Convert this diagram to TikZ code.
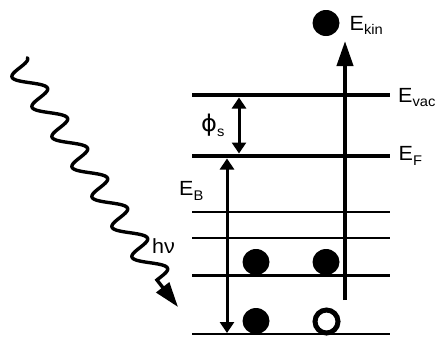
\documentclass[tikz,border=0pt]{standalone}
\usepackage{fontspec}
\setmainfont[FakeStretch=1.05]{Liberation Sans}
\newfontfamily\phifont[FakeStretch=1.05]{DejaVu Sans}
\usetikzlibrary{arrows.meta,shapes.geometric}
\newcommand{\lowtxt}[1]{\raisebox{-4.5pt}{\fontsize{14}{14}\selectfont #1}}
\begin{document}
\begin{tikzpicture}[x=1pt,y=-1pt,
  thicklevel/.style={line width=4.5pt},
  thinlevel/.style={line width=2.7pt},
  lbl/.style={anchor=base west,inner sep=0pt,font=\fontsize{20.5}{24}\selectfont},
  ball/.style={ellipse,fill=black,minimum width=27pt,minimum height=26pt,inner sep=0pt},
  hole/.style={circle,draw=black,line width=5pt,minimum size=23pt,inner sep=0pt},
  bigtip/.tip={Triangle[length=25pt,width=16pt]},
  smalltip/.tip={Triangle[length=11pt,width=14pt]},
  wave/.style={line width=3.4pt,line cap=round,-bigtip}]
\useasboundingbox (0,0) rectangle (436,338);
% levels
\coordinate (vacL) at (192,95);  \coordinate (vacR) at (390,95);
\coordinate (fL) at (192,156);   \coordinate (fR) at (390,156);
\coordinate (aL) at (192,212);   \coordinate (aR) at (390,212);
\coordinate (bL) at (192,238);   \coordinate (bR) at (390,238);
\coordinate (cL) at (192,275.5); \coordinate (cR) at (390,275.5);
\coordinate (dL) at (192,334);   \coordinate (dR) at (390,334);
\draw[thicklevel] (vacL) -- (vacR);
\draw[thicklevel] (fL) -- (fR);
\draw[thinlevel] (aL) -- (aR);
\draw[thinlevel] (bL) -- (bR);
\draw[thinlevel] (cL) -- (cR);
\draw[thinlevel] (dL) -- (dR);
% emission arrow
\coordinate (exB) at (345,300); \coordinate (exT) at (345,41);
\draw[line width=4pt,-bigtip] (exB) -- (exT);
% work function arrow
\coordinate (phT) at (239,97.5); \coordinate (phB) at (239,153.5);
\draw[line width=3pt,smalltip-smalltip] (phT) -- (phB);
% binding energy arrow
\coordinate (ebT) at (227,158.5); \coordinate (ebB) at (227,333);
\draw[line width=3pt,smalltip-smalltip] (ebT) -- (ebB);
% electrons
\node[ball] (ek) at (326,23) {};
\node[ball] (e1) at (256,262) {};
\node[ball] (e2) at (326,262) {};
\node[ball] (e3) at (256,321) {};
\node[hole] (h1) at (326.5,321.5) {};
% photon
\coordinate (tip) at (178,307);
\draw[wave] plot[domain=0:7.3,samples=300,smooth]
  ({14.8+20*\x+12.5*cos(360*\x)},{60.2+30*\x-2.5*cos(360*\x)}) -- (tip);
% labels
\node[lbl] (tkin) at (349.5,30) {E\lowtxt{kin}};
\node[lbl] (tvac) at (398,102) {E\lowtxt{vac}};
\node[lbl] (tf) at (398.5,160.5) {E\lowtxt{F}};
\node[lbl] (tb) at (179,195.5) {E\lowtxt{B}};
\node[lbl] (tph) at (201,131.5) {{\phifont\fontsize{23}{24}\selectfont ϕ}\lowtxt{s}};
\node[lbl] (thv) at (152,253) {hν};
\end{tikzpicture}
\end{document}
